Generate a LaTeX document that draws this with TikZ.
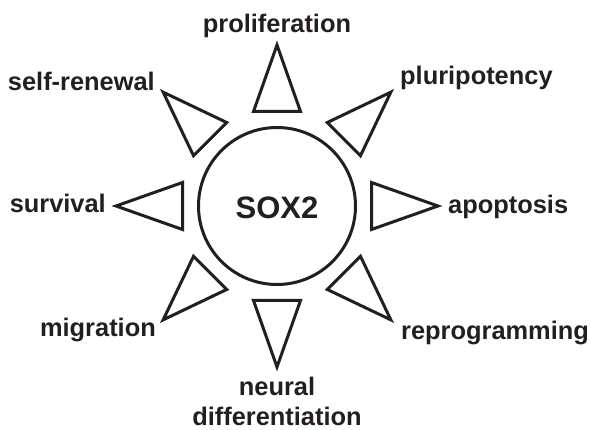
\documentclass[tikz,border=0pt]{standalone}
\usepackage{fontspec}
\setmainfont{Liberation Sans}
\definecolor{ink}{HTML}{231F20}
\begin{document}
\begin{tikzpicture}[x=1pt, y=-1pt,
    lbl/.style={ink, font=\fontsize{25.4}{30}\selectfont\bfseries, inner sep=0pt},
    ray/.style={ink, line width=3pt, line join=miter}]
    \useasboundingbox (0,0) rectangle (590,430);
    \node [ray, draw, circle, minimum size=157pt, inner sep=0pt] (sox2) at (277,206) {};
    \node [lbl, font=\fontsize{31}{36}\selectfont\bfseries, anchor=base] (soxlabel) at (277,219) {SOX2};
    % rays round the circle
    \foreach \a in {0,45,...,315}
      \draw [ray, shift={(sox2.center)}, rotate=\a] (94.5,-23.5) -- (161,0) -- (94.5,23.5) -- cycle;
    \node [lbl, anchor=base] (prolif) at (277,33) {proliferation};
    \node [lbl, anchor=base west] (pluri) at (400,85) {pluripotency};
    \node [lbl, anchor=base west] (apopt) at (448,214) {apoptosis};
    \node [lbl, anchor=base west] (reprog) at (401,340) {reprogramming};
    \node [lbl, anchor=base, align=center] (neural) at (277,426) {neural\\differentiation};
    \node [lbl, anchor=base east] (migr) at (156,337) {migration};
    \node [lbl, anchor=base east] (surv) at (106,213) {survival};
    \node [lbl, anchor=base east] (selfren) at (155,91) {self-renewal};
  \end{tikzpicture}
\end{document}
